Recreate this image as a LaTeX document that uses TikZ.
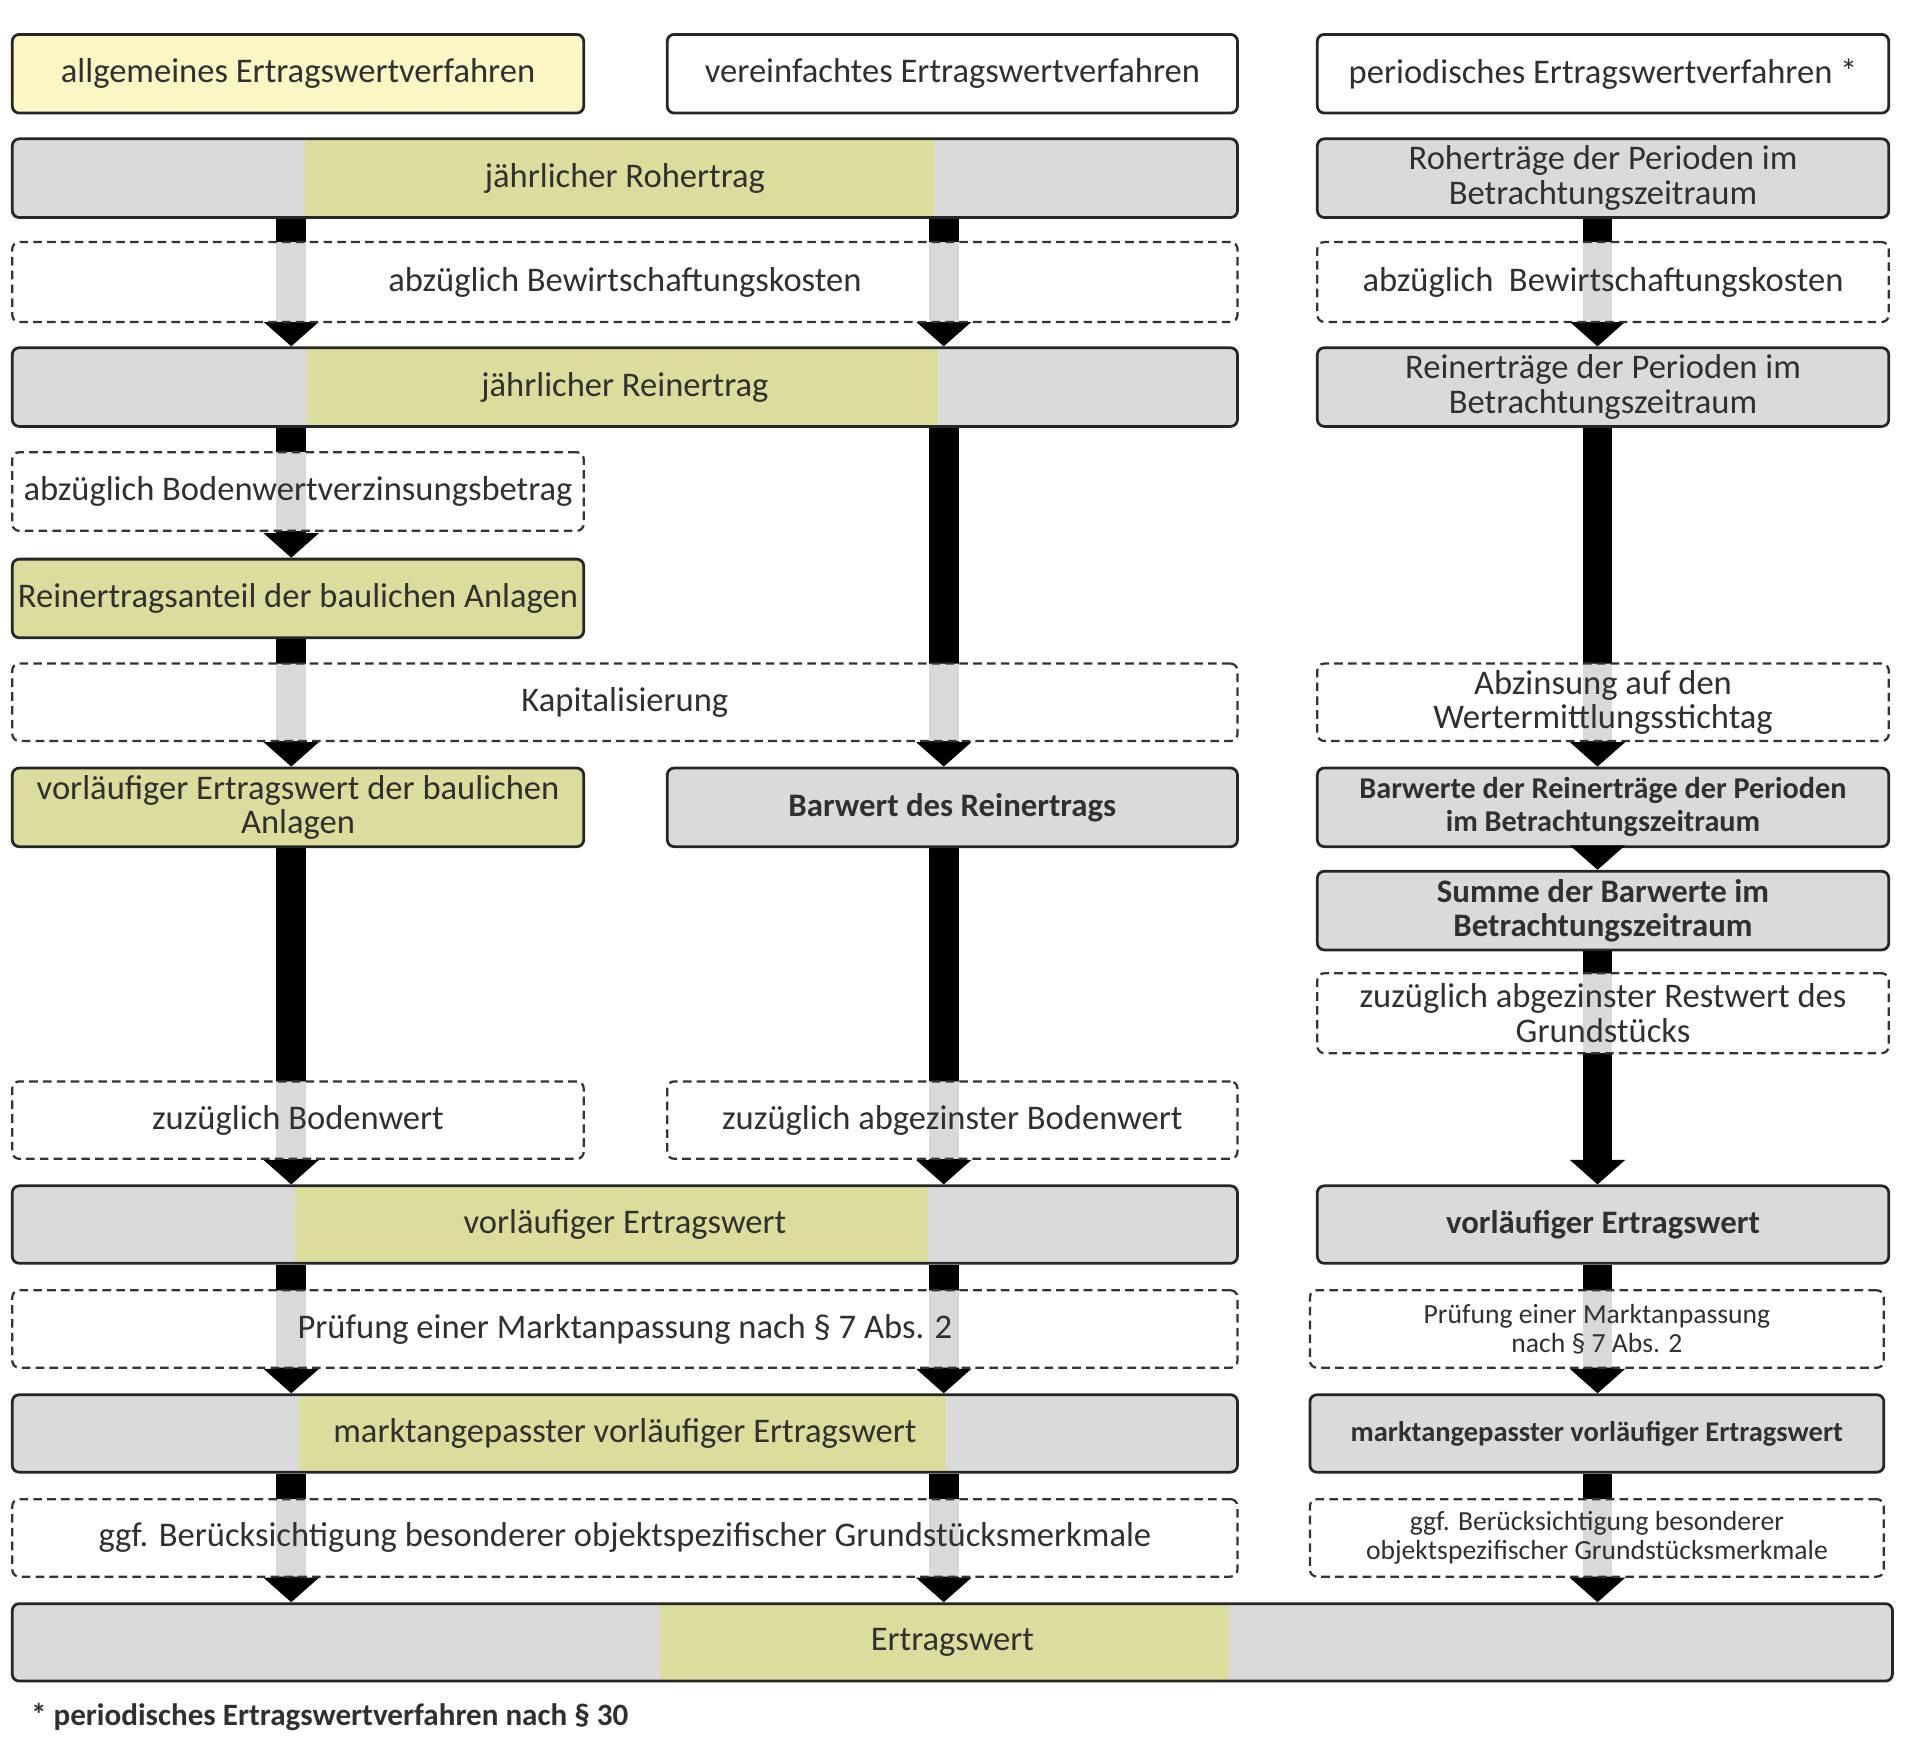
\documentclass[tikz,border=0pt]{standalone}
\usepackage{fontspec}
\setmainfont{Carlito}
\usetikzlibrary{arrows.meta}
\definecolor{grayc}{HTML}{DADADA}
\definecolor{hiy}{HTML}{DCDC9C}
\definecolor{heady}{HTML}{FBF6C4}
\definecolor{txt}{HTML}{303030}
\newcommand{\mybox}[7]{% name,x1,y1,x2,y2,style,text
  \pgfmathsetmacro{\bw}{(#4-#2)*0.25}\pgfmathsetmacro{\bh}{(#5-#3)*0.25}
  \node[#6,minimum width=\bw mm,minimum height=\bh mm] (#1) at ({(#2+#4)/2},{(#3+#5)/2}) {#7};}
\newcommand{\hibox}[9]{% name,x1,y1,x2,y2,hx1,hx2,text,font
  \fill[grayc,rounded corners=4pt] (#2,#3) rectangle (#4,#5);
  \fill[hiy] (#6,#3) rectangle (#7,#5);
  \mybox{#1}{#2}{#3}{#4}{#5}{solid box,fill=none,font=#9}{#8}}
\begin{document}
\begin{tikzpicture}[x=0.25mm,y=-0.25mm,
  every node/.style={text=txt,font=\fontsize{20}{20}\selectfont,inner sep=0pt},
  solid box/.style={draw=black!85,line width=1.6pt,rounded corners=4pt,fill=grayc,align=center},
  yel box/.style={solid box,fill=hiy},
  head box/.style={solid box,fill=white},
  dash box/.style={draw=black!80,line width=1.3pt,dashed,dash pattern=on 5pt off 3pt,rounded corners=4pt,fill=white,fill opacity=0.85,text opacity=1,align=center},
  bar/.style={line width=6mm,draw=black,-{Triangle[width=11mm,length=5mm]}},
  sm/.style={font=\fontsize{16}{17}\selectfont},
  bf/.style={font=\bfseries\fontsize{19}{20}\selectfont}]
\useasboundingbox (0,0) rectangle (1560,1426);
\coordinate (cL) at (237,0);\coordinate (cM) at (768,0);\coordinate (cR) at (1300,0);
% solid boxes
\mybox{h1}{10}{28}{475}{92}{solid box,fill=heady}{allgemeines Ertragswertverfahren}
\mybox{h2}{543}{28}{1007}{92}{head box}{vereinfachtes Ertragswertverfahren}
\mybox{h3}{1072}{28}{1537}{92}{head box}{periodisches Ertragswertverfahren *}
\hibox{r1}{10}{113}{1007}{177}{248}{760}{jährlicher Rohertrag}{\fontsize{20}{20}\selectfont}
\mybox{R1}{1072}{113}{1537}{177}{solid box}{Roherträge der Perioden im\\Betrachtungszeitraum}
\hibox{r3}{10}{283}{1007}{347}{250}{763}{jährlicher Reinertrag}{\fontsize{20}{20}\selectfont}
\mybox{R3}{1072}{283}{1537}{347}{solid box}{Reinerträge der Perioden im\\Betrachtungszeitraum}
\mybox{L5}{10}{455}{475}{519}{yel box}{Reinertragsanteil der baulichen Anlagen}
\mybox{L7}{10}{625}{475}{689}{yel box}{vorläufiger Ertragswert der baulichen\\Anlagen}
\mybox{M7}{543}{625}{1007}{689}{solid box,bf}{Barwert des Reinertrags}
\mybox{R7}{1072}{625}{1537}{689}{solid box,font=\bfseries\fontsize{17.5}{19}\selectfont}{Barwerte der Reinerträge der Perioden\\im Betrachtungszeitraum}
\mybox{R8}{1072}{709}{1537}{773}{solid box,bf}{Summe der Barwerte im\\Betrachtungszeitraum}
\hibox{r9}{10}{965}{1007}{1028}{240}{755}{vorläufiger Ertragswert}{\fontsize{20}{20}\selectfont}
\mybox{R10}{1072}{965}{1537}{1028}{solid box,bf}{vorläufiger Ertragswert}
\hibox{r11}{10}{1135}{1007}{1198}{243}{770}{marktangepasster vorläufiger Ertragswert}{\fontsize{20}{20}\selectfont}
\mybox{R11}{1066}{1135}{1533}{1198}{solid box,font=\bfseries\fontsize{16.5}{17}\selectfont}{marktangepasster vorläufiger Ertragswert}
\hibox{fin}{10}{1305}{1540}{1368}{537}{1000}{Ertragswert}{\fontsize{20}{20}\selectfont}
% bars
\foreach \a/\b/\c in {r1/r3/cL,r3/L5/cL,L5/L7/cL,L7/r9/cL,r9/r11/cL,r11/fin/cL,
  r1/r3/cM,r3/M7/cM,M7/r9/cM,r9/r11/cM,r11/fin/cM,
  R1/R3/cR,R3/R7/cR,R7/R8/cR,R8/R10/cR,R10/R11/cR,R11/fin/cR}
  \draw[bar] (\a.south -| \c) -- (\b.north -| \c);
% dashed boxes
\mybox{d2}{10}{197}{1007}{262}{dash box}{abzüglich Bewirtschaftungskosten}
\mybox{D2}{1072}{197}{1537}{262}{dash box}{abzüglich \ Bewirtschaftungskosten}
\mybox{d4}{10}{368}{475}{432}{dash box}{abzüglich Bodenwertverzinsungsbetrag}
\mybox{d6}{10}{540}{1007}{603}{dash box}{Kapitalisierung}
\mybox{D6}{1072}{540}{1537}{603}{dash box}{Abzinsung auf den\\Wertermittlungsstichtag}
\mybox{D9}{1072}{792}{1537}{857}{dash box}{zuzüglich abgezinster Restwert des\\Grundstücks}
\mybox{d8}{10}{880}{475}{943}{dash box}{zuzüglich Bodenwert}
\mybox{m8}{543}{880}{1007}{943}{dash box}{zuzüglich abgezinster Bodenwert}
\mybox{d10}{10}{1050}{1007}{1113}{dash box}{Prüfung einer Marktanpassung nach § 7 Abs. 2}
\mybox{D10}{1066}{1050}{1533}{1113}{dash box,sm}{Prüfung einer Marktanpassung\\nach § 7 Abs. 2}
\mybox{d12}{10}{1220}{1007}{1283}{dash box}{ggf. Berücksichtigung besonderer objektspezifischer Grundstücksmerkmale}
\mybox{D12}{1066}{1220}{1533}{1283}{dash box,sm}{ggf. Berücksichtigung besonderer\\objektspezifischer Grundstücksmerkmale}
\node[anchor=west,font=\bfseries\fontsize{18}{18}\selectfont] (foot) at (25,1397) {* periodisches Ertragswertverfahren nach § 30};
\end{tikzpicture}
\end{document}
